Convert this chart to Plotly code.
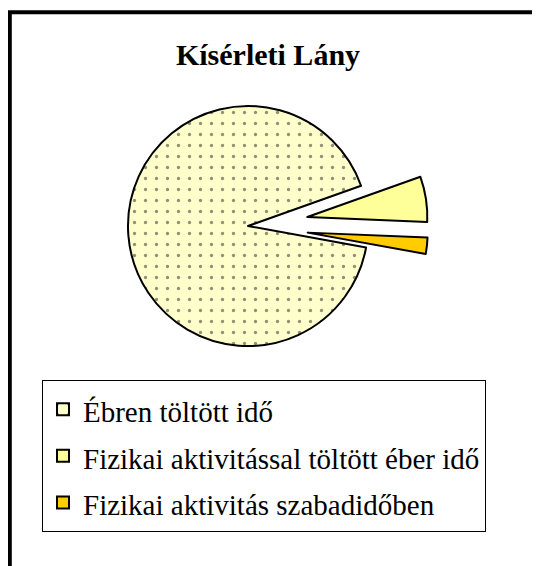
import plotly.graph_objects as go

categories = ["Ébren töltött idő", "Fizikai aktivitással töltött éber idő", "Fizikai aktivitás szabadidőben"]
values = [91.7, 6.1, 2.2]
colors = ["#FFFFCC", "#FFFF99", "#FFCC00"]
pulls = [0, 0.5, 0.5]
title_text = "Kísérleti Lány"

# the page body has an 8px margin; work in reference-pixel coordinates and shift
OFF = 8
W, H = 540 - OFF, 566 - OFF


def px(x):
    return (x - OFF) / W


def py(y):
    return 1 - (y - OFF) / H


legend_labels = [f"<span style='font-size:29px'>{c}</span>" for c in categories]

cx, cy, half = 248, 226, 180
fig = go.Figure(go.Pie(
    labels=legend_labels,
    values=values,
    sort=False,
    direction="clockwise",
    rotation=100.3,
    pull=pulls,
    textinfo="none",
    hoverinfo="none",
    marker=dict(
        colors=colors,
        line=dict(color="black", width=2),
        pattern=dict(shape=[".", "", ""], fgcolor="#222222", fillmode="overlay", size=11, solidity=0.07),
    ),
    domain=dict(x=[px(cx - half), px(cx + half)], y=[py(cy + half), py(cy - half)]),
))

fig.update_layout(
    width=W, height=H,
    margin=dict(l=0, r=0, t=0, b=0),
    paper_bgcolor="white",
    plot_bgcolor="white",
    title=dict(text=f"<b>{title_text}</b>", x=px(268), xanchor="center", y=py(54), yanchor="middle",
               font=dict(family="Liberation Serif", size=30, color="black")),
    legend=dict(
        x=px(42), xanchor="left", y=py(380), yanchor="top",
        font=dict(family="Liberation Serif", size=33.5, color="black"),
        bordercolor="black", borderwidth=1, bgcolor="white",
        traceorder="normal",
    ),
    showlegend=True,
    shapes=[dict(type="rect", xref="paper", yref="paper", x0=px(9.8), x1=1.2, y0=-0.2, y1=py(12.3),
                 line=dict(color="black", width=4), layer="below")],
)

fig.write_html("out.html")
